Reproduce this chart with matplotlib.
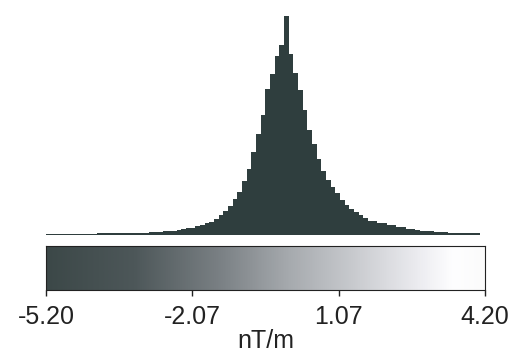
import numpy as np
import matplotlib
matplotlib.use("Agg")
import matplotlib.pyplot as plt
from matplotlib.colors import LinearSegmentedColormap

plt.rcParams['font.family'] = ['Liberation Sans', 'DejaVu Sans']

# histogram of gradient values, 0.1 nT/m bins from -5.2 to 4.2
vmin, vmax = -5.20, 4.20
counts = [1] * 11 + [2] * 11 + [3, 3, 3, 4, 4, 4, 5, 6, 7, 7, 9, 10, 12, 13, 16, 20,
          24, 29, 36, 43, 54, 66, 83, 101, 120, 146, 161, 179, 190, 219, 181, 162,
          145, 125, 105, 91, 76, 64, 55, 48, 42, 35, 30, 26, 23, 20, 17, 14, 14, 12,
          12, 10, 10, 8, 8, 6, 6, 5, 4, 4, 4, 3, 3, 3] + [2] * 7 + [0]
tick_values = [-5.20, -2.07, 1.07, 4.20]
tick_labels = ['-5.20', '-2.07', '1.07', '4.20']
unit = 'nT/m'

edges = np.linspace(vmin, vmax, len(counts) + 1)

cmap = LinearSegmentedColormap.from_list('grad', [
    (0.0, '#3c4848'), (0.2, '#4d5759'), (0.4, '#7b8185'), (0.55, '#a5a9ad'),
    (0.7, '#c8cace'), (0.85, '#ececf0'), (0.93, '#fefeff'), (1.0, '#fbfbfb')])

fig = plt.figure(figsize=(5.25, 3.6), dpi=100)

ax = fig.add_axes([0.0876, 0.347, 0.836, 0.609])
ax.bar(edges[:-1], counts, width=edges[1] - edges[0], align='edge',
       color='#2f3e3e', linewidth=0)
ax.set_xlim(vmin, vmax)
ax.set_ylim(0, max(counts))
ax.axis('off')

cax = fig.add_axes([0.0876, 0.194, 0.836, 0.124])
grad = np.linspace(vmin, vmax, 512).reshape(1, -1)
cax.imshow(grad, cmap=cmap, aspect='auto', extent=(vmin, vmax, 0, 1))
cax.set_xlim(vmin, vmax)
cax.set_yticks([])
cax.set_xticks(tick_values)
cax.set_xticklabels(tick_labels, fontsize=18)
cax.tick_params(axis='x', length=4, width=1, pad=7, colors='#222222')
for s in cax.spines.values():
    s.set_linewidth(0.8)
    s.set_color('#222222')
cax.set_xlabel(unit, fontsize=18, labelpad=0, color='#222222')

fig.savefig('out.png', dpi=100)
